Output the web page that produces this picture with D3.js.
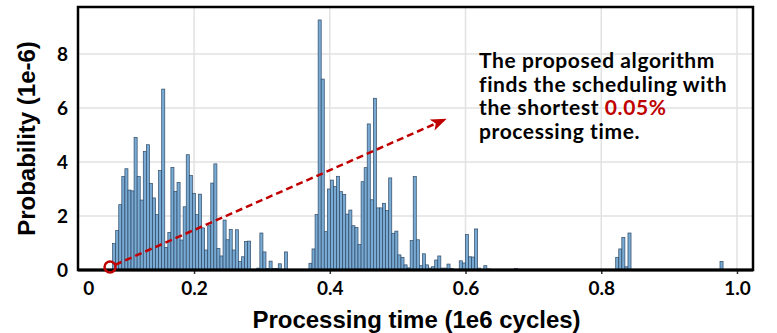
<!DOCTYPE html>
<html>
<head>
<meta charset="utf-8">
<script src="https://cdn.jsdelivr.net/npm/d3@7"></script>
<style>
	body { margin: 0; background: #fff; }
	svg { display: block; }
</style>
</head>
<body>
<script>
// DATA
// histogram bins: first bin starts at binStart, every bin is binWidth wide (1e6 cycles)
const binStart = 0.08;
const binWidth = 0.00452;
// probability of each bin (1e-6)
const probs = [
	0.98, 1.46, 2.42, 3.46, 3.75, 2.96, 2.93, 4.91, 3.46, 2.59,
	4.39, 4.64, 3.21, 2.67, 2.05, 3.68, 6.70, 0.84, 1.39, 3.80,
	2.91, 3.24, 1.11, 2.34, 4.27, 3.50, 2.84, 2.05, 2.81, 1.56,
	0.74, 1.64, 3.22, 3.93, 0.80, 0.52, 1.85, 1.12, 1.50, 0.74,
	1.49, 0.31, 0.49, 1.06, 1.07, 0, 0, 0.07, 1.37, 0.67,
	0.05, 0.33, 0.05, 0.05, 0.23, 0, 0.67, 0, 0, 0,
	0, 0, 0, 0, 0.25, 0.78, 2.05, 9.26, 7.07, 1.42,
	3.00, 3.33, 3.09, 3.47, 2.90, 2.80, 2.07, 2.22, 1.64, 1.57,
	0.94, 3.27, 3.79, 5.41, 2.60, 6.36, 2.30, 2.30, 2.47, 2.20,
	3.41, 1.36, 1.44, 0.56, 0.47, 0.19, 0.08, 1.09, 3.46, 1.12,
	0.16, 0.60, 0.19, 0.07, 0.12, 0.37, 0.52, 0.07, 0.07, 0.22,
	0.05, 0, 0, 0.34, 0.26, 1.31, 0.49, 0.48, 1.52, 0.07,
	0, 0.16, 0.04, 0, 0, 0, 0, 0, 0, 0,
	0, 0.05, 0.03, 0, 0, 0, 0, 0, 0, 0,
	0, 0, 0, 0, 0, 0, 0, 0, 0, 0,
	0, 0, 0, 0, 0, 0, 0, 0, 0, 0,
	0, 0, 0, 0, 0.47, 0.78, 1.21, 0.12, 1.37, 0,
	0, 0, 0, 0, 0, 0, 0, 0, 0, 0,
	0, 0, 0, 0, 0, 0, 0, 0, 0, 0,
	0, 0, 0, 0, 0, 0, 0, 0, 0.32
];
const xTickValues = [0.044, 0.2, 0.4, 0.6, 0.8, 1.0];
const xTickLabels = ['0', '0.2', '0.4', '0.6', '0.8', '1.0'];
const yTicks = [0, 2, 4, 6, 8];
const xTitle = 'Processing time (1e6 cycles)';
const yTitle = 'Probability (1e-6)';
const marker = { x: 0.0762, y: 0.11 };
const arrowEnd = { x: 0.571, y: 5.59 };
const noteLines = [
	[{ t: 'The proposed algorithm' }],
	[{ t: 'finds the scheduling with' }],
	[{ t: 'the shortest ' }, { t: '0.05%', red: true }],
	[{ t: 'processing time.' }]
];

// CONFIGURATION
const width = 777;
const height = 333;
const plot = { left: 78, right: 753, top: 7, bottom: 270 };
const barFill = '#78aad4';
const barStroke = '#2f4a66';
const gridColor = '#e2e2e2';
const red = '#c00000';
const font = 'Lato, "Open Sans", sans-serif';
const narrow = '"Liberation Sans Narrow", "Arial Narrow", sans-serif';

const svg = d3.select('body')
	.append('svg')
	.attr('width', width)
	.attr('height', height);

const x = d3.scaleLinear()
	.domain([0.029, 1.0236])
	.range([plot.left, plot.right]);
const y = d3.scaleLinear()
	.domain([0, 9.74])
	.range([plot.bottom, plot.top]);

// GRID
svg.append('g')
	.selectAll('line')
	.data(xTickValues.slice(1))
	.enter()
	.append('line')
	.attr('x1', d => x(d))
	.attr('x2', d => x(d))
	.attr('y1', plot.top)
	.attr('y2', plot.bottom)
	.attr('stroke', gridColor)
	.attr('stroke-width', 1.5);
svg.append('g')
	.selectAll('line')
	.data(yTicks.slice(1))
	.enter()
	.append('line')
	.attr('x1', plot.left)
	.attr('x2', plot.right)
	.attr('y1', d => y(d))
	.attr('y2', d => y(d))
	.attr('stroke', gridColor)
	.attr('stroke-width', 1.5);

// BARS
svg.append('g')
	.selectAll('rect')
	.data(probs.map((p, i) => ({ x0: binStart + i * binWidth, p })).filter(d => d.p > 0))
	.enter()
	.append('rect')
	.attr('x', d => x(d.x0))
	.attr('y', d => y(d.p))
	.attr('width', d => x(d.x0 + binWidth) - x(d.x0))
	.attr('height', d => y(0) - y(d.p))
	.attr('fill', barFill)
	.attr('stroke', barStroke)
	.attr('stroke-width', 0.7);

// AXES
const xAxis = d3.axisBottom(x)
	.tickValues(xTickValues)
	.tickSize(4)
	.tickPadding(7.5)
	.tickFormat((d, i) => xTickLabels[i]);
const gx = svg.append('g')
	.attr('transform', `translate(0, ${plot.bottom})`)
	.call(xAxis);
gx.select('.domain').remove();
gx.selectAll('.tick line').attr('stroke', '#333').attr('stroke-width', 1.5);
gx.select('.tick line').remove();
gx.selectAll('text')
	.attr('font-family', font)
	.attr('font-weight', 'bold')
	.attr('font-size', 19)
	.attr('fill', '#000');

const yAxis = d3.axisLeft(y)
	.tickValues(yTicks)
	.tickSize(0)
	.tickPadding(10)
	.tickFormat(d3.format('d'));
const gy = svg.append('g')
	.attr('transform', `translate(${plot.left}, 0)`)
	.call(yAxis);
gy.select('.domain').remove();
gy.selectAll('text')
	.attr('font-family', font)
	.attr('font-weight', 'bold')
	.attr('font-size', 19)
	.attr('fill', '#000');

// FRAME
svg.append('rect')
	.attr('x', plot.left)
	.attr('y', plot.top)
	.attr('width', plot.right - plot.left)
	.attr('height', plot.bottom - plot.top)
	.attr('fill', 'none')
	.attr('stroke', '#000')
	.attr('stroke-width', 2.5);
svg.append('line')
	.attr('x1', plot.left)
	.attr('x2', plot.right)
	.attr('y1', plot.bottom)
	.attr('y2', plot.bottom)
	.attr('stroke', '#000')
	.attr('stroke-width', 3);

// TITLES
svg.append('text')
	.attr('x', (plot.left + plot.right) / 2 + 1)
	.attr('y', 328)
	.attr('text-anchor', 'middle')
	.attr('font-family', narrow)
	.attr('font-weight', 'bold')
	.attr('font-size', 24)
	.text(xTitle);
svg.append('text')
	.attr('transform', `translate(35, ${(plot.top + plot.bottom) / 2}) rotate(-90)`)
	.attr('text-anchor', 'middle')
	.attr('font-family', narrow)
	.attr('font-weight', 'bold')
	.attr('font-size', 24)
	.text(yTitle);

// ANNOTATION
const defs = svg.append('defs');
defs.append('marker')
	.attr('id', 'head')
	.attr('markerUnits', 'userSpaceOnUse')
	.attr('markerWidth', 16)
	.attr('markerHeight', 12)
	.attr('refX', 15)
	.attr('refY', 6)
	.attr('orient', 'auto')
	.append('path')
	.attr('d', 'M0,0 L16,6 L0,12 L4,6 Z')
	.attr('fill', red);

const cx = x(marker.x);
const cy = y(marker.y);
const ex = x(arrowEnd.x);
const ey = y(arrowEnd.y);
const len = Math.hypot(ex - cx, ey - cy);
const r = 5.5;
svg.append('line')
	.attr('x1', cx + (ex - cx) / len * r)
	.attr('y1', cy + (ey - cy) / len * r)
	.attr('x2', ex)
	.attr('y2', ey)
	.attr('stroke', red)
	.attr('stroke-width', 2.5)
	.attr('stroke-dasharray', '7,4')
	.attr('marker-end', 'url(#head)');
svg.append('circle')
	.attr('cx', cx)
	.attr('cy', cy)
	.attr('r', r)
	.attr('fill', 'none')
	.attr('stroke', red)
	.attr('stroke-width', 2.5);

const note = svg.append('text')
	.attr('font-family', font)
	.attr('font-weight', 'bold')
	.attr('font-size', 21)
	.attr('letter-spacing', 0.6)
	.attr('fill', '#000');
noteLines.forEach((line, i) => {
	line.forEach((part, j) => {
		const ts = note.append('tspan')
			.attr('fill', part.red ? red : '#000')
			.text(part.t);
		if (j === 0) ts.attr('x', 479).attr('y', 68 + i * 23.7);
	});
});
</script>
</body>
</html>
